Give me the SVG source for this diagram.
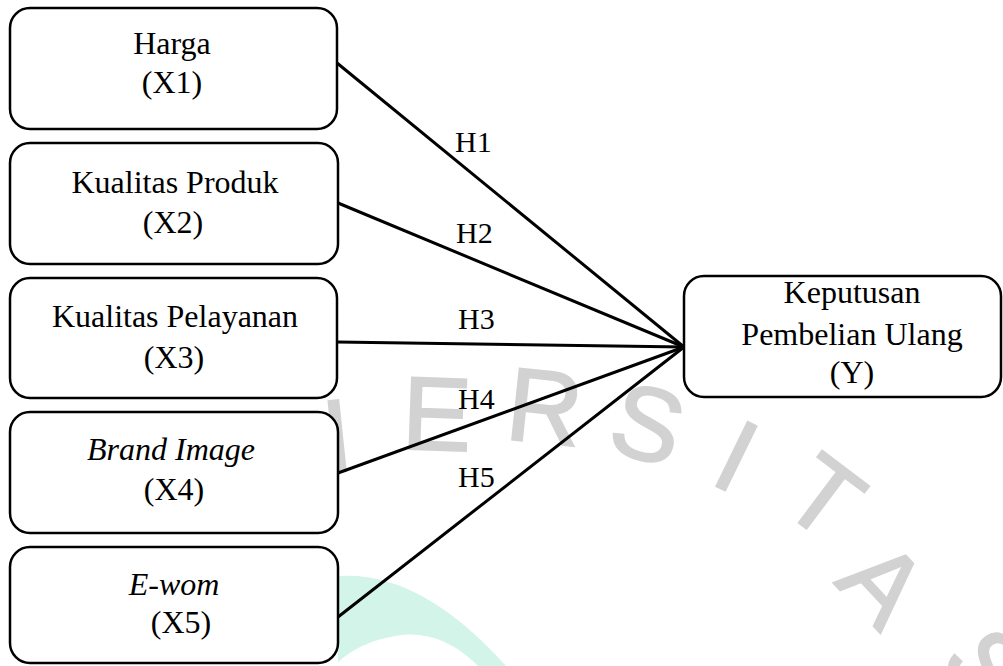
<svg xmlns="http://www.w3.org/2000/svg" width="1003" height="666" viewBox="0 0 1003 666">
  <style>
    .box { fill: #ffffff; stroke: #000000; stroke-width: 2.5; }
    .lbl { font-family: "Liberation Serif", "Times New Roman", serif; font-size: 32px; fill: #000000; text-anchor: middle; }
    .it { font-style: italic; }
    .hyp { font-family: "Liberation Serif", "Times New Roman", serif; font-size: 30px; fill: #000000; }
    .wm { font-family: "Liberation Sans", Arial, sans-serif; font-size: 104px; fill: #d2d2d2; stroke: #d2d2d2; stroke-width: 2; text-anchor: middle; }
    .edge { stroke: #000000; stroke-width: 3; fill: none; }
  </style>

  <rect width="1003" height="666" fill="#ffffff"/>

  <g id="watermark">
    <path d="M 338 576 Q 420 570 506 666 L 478 666 Q 440 628 395 636 Q 360 642 338 662 Z" fill="#d3f4e8"/>
    <text class="wm" transform="translate(337,435) rotate(-6)" y="37">I</text>
    <text class="wm" transform="translate(437,413) rotate(2)" y="37">E</text>
    <text class="wm" transform="translate(545,406) rotate(6)" y="37">R</text>
    <text class="wm" transform="translate(648,423) rotate(16)" y="37">S</text>
    <text class="wm" transform="translate(737,455) rotate(26)" y="37">I</text>
    <text class="wm" transform="translate(825,496) rotate(37)" y="37">T</text>
    <text class="wm" transform="translate(884,583) rotate(47)" y="37">A</text>
    <text class="wm" transform="translate(988,668) rotate(55)" y="37">S</text>
  </g>

  <g id="connectors">
    <line class="edge" x1="337" y1="63" x2="684" y2="347"/>
    <line class="edge" x1="338" y1="203" x2="684" y2="347"/>
    <line class="edge" x1="337" y1="342" x2="684" y2="347"/>
    <line class="edge" x1="338" y1="473" x2="684" y2="347"/>
    <line class="edge" x1="338" y1="617" x2="684" y2="347"/>
    <text class="hyp" x="455" y="152">H1</text>
    <text class="hyp" x="456" y="243">H2</text>
    <text class="hyp" x="458" y="329">H3</text>
    <text class="hyp" x="458" y="409">H4</text>
    <text class="hyp" x="458" y="487">H5</text>
  </g>

  <g id="x1">
    <rect class="box" x="10" y="8" width="327" height="121" rx="20"/>
    <text class="lbl" x="172" y="54">Harga</text>
    <text class="lbl" x="172" y="93">(X1)</text>
  </g>
  <g id="x2">
    <rect class="box" x="10" y="143" width="328" height="121" rx="20"/>
    <text class="lbl" x="175" y="193">Kualitas Produk</text>
    <text class="lbl" x="173" y="233">(X2)</text>
  </g>
  <g id="x3">
    <rect class="box" x="10" y="278" width="327" height="120" rx="20"/>
    <text class="lbl" x="175" y="327">Kualitas Pelayanan</text>
    <text class="lbl" x="174" y="368">(X3)</text>
  </g>
  <g id="x4">
    <rect class="box" x="10" y="412" width="328" height="121" rx="20"/>
    <text class="lbl it" x="171" y="460">Brand Image</text>
    <text class="lbl" x="174" y="500">(X4)</text>
  </g>
  <g id="x5">
    <rect class="box" x="10" y="547" width="328" height="116" rx="20"/>
    <text class="lbl it" x="174" y="595">E-wom</text>
    <text class="lbl" x="181" y="633">(X5)</text>
  </g>
  <g id="y">
    <rect class="box" x="684" y="276" width="317" height="121" rx="20"/>
    <text class="lbl" x="852" y="303">Keputusan</text>
    <text class="lbl" x="852" y="345">Pembelian Ulang</text>
    <text class="lbl" x="852" y="383">(Y)</text>
  </g>
</svg>
